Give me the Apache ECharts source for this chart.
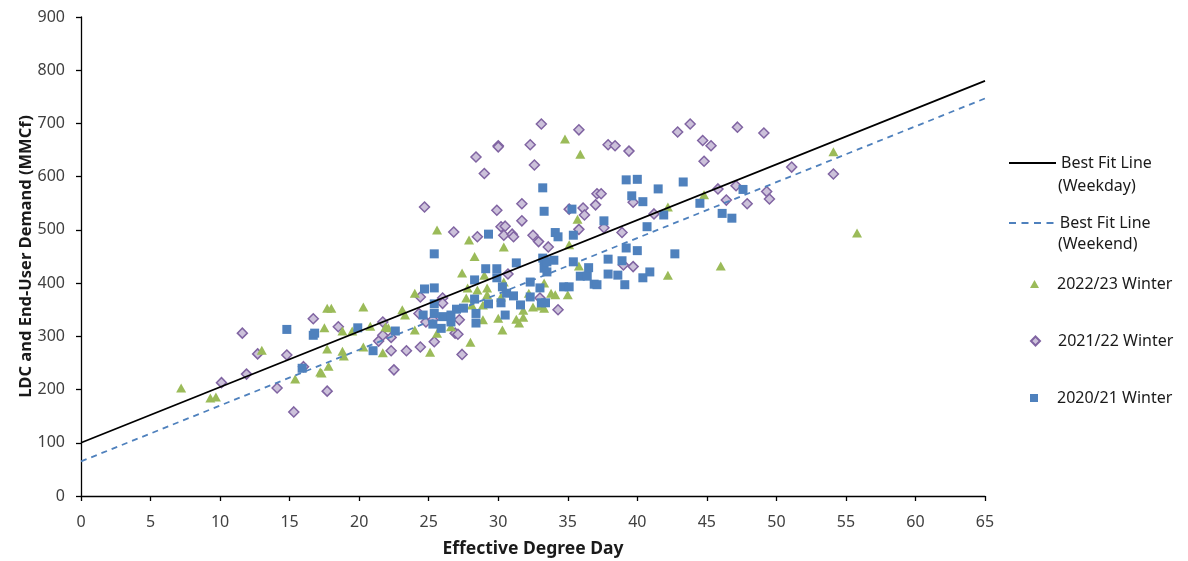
<!DOCTYPE html>
<html>
<head>
<meta charset="utf-8">
<script src="https://cdn.jsdelivr.net/npm/echarts@6/dist/echarts.min.js"></script>
<style>
html,body{margin:0;padding:0;background:#fff;}
#chart{width:1188px;height:561px;}
</style>
</head>
<body>
<div id="chart"></div>
<script>
// ---- data ----
var xTickMin = 0, xTickMax = 65, xTickStep = 5;
var yTickMin = 0, yTickMax = 900, yTickStep = 100;

var weekdayLine = [[0, 100], [65, 780]];
var weekendLine = [[0, 65], [65, 747]];

var winter2223 = [
  [7.2,203],[9.3,184],[9.7,186],[13.0,274],[15.4,220],[17.2,233],[17.3,231],[17.8,244],[17.7,276],
  [18.8,272],[18.9,263],[17.5,316],[17.7,353],[18.0,353],[18.8,310],[19.5,310],[20.3,355],[20.8,319],
  [20.3,280],[21.7,269],[22.1,316],[21.9,318],[23.1,350],[23.3,340],[24.0,381],[24.0,312],[25.1,270],
  [25.6,306],[25.6,500],[26.6,318],[27.4,419],[27.9,481],[27.8,391],[27.7,372],[28.0,289],[28.5,387],
  [28.1,359],[28.9,359],[28.9,331],[29.2,378],[29.2,391],[28.3,450],[29.0,415],[30.0,334],[30.3,312],
  [30.4,468],[30.4,402],[30.2,374],[31.5,325],[31.8,336],[31.3,332],[31.8,349],[32.2,381],[32.5,355],
  [33.0,357],[33.3,353],[33.3,400],[33.8,381],[34.1,378],[35.0,378],[35.1,472],[35.8,432],[35.7,520],
  [34.8,671],[35.9,642],[42.2,543],[42.2,415],[44.8,566],[46.0,432],[54.1,647],[55.8,494]
];

var winter2122 = [
  [10.1,213],[11.6,306],[11.9,229],[12.7,267],[14.1,203],[14.8,265],[15.3,158],[16.0,243],[16.7,333],
  [17.7,197],[18.5,318],[21.4,291],[21.7,302],[21.7,327],[22.3,298],[22.3,273],[22.5,237],[23.4,273],
  [24.3,343],[24.4,374],[24.4,280],[24.7,543],[24.8,327],[25.3,331],[25.4,290],[26.0,372],[26.0,362],
  [26.8,496],[26.9,306],[27.1,304],[27.2,331],[27.4,266],[28.4,637],[28.5,487],[29.0,606],[29.9,537],
  [30.0,658],[30.0,656],[30.2,506],[30.5,507],[30.4,490],[30.7,417],[31.0,492],[31.1,487],[31.7,549],
  [31.7,517],[32.3,660],[32.5,490],[32.6,622],[32.9,478],[33.0,372],[33.1,699],[33.6,468],[34.3,350],
  [35.1,539],[35.8,688],[35.8,501],[36.1,541],[36.2,528],[37.0,547],[37.1,568],[37.4,568],[37.6,504],
  [37.9,660],[38.4,658],[38.9,495],[39.0,434],[39.4,648],[39.7,552],[39.7,431],[41.2,530],[42.9,684],
  [43.8,699],[44.7,668],[44.8,629],[45.3,658],[45.8,577],[46.4,556],[47.1,583],[47.2,693],[47.9,549],
  [49.1,682],[49.3,572],[49.5,558],[51.1,618],[54.1,605]
];

var winter2021 = [
  [14.8,313],[15.9,240],[16.7,302],[16.8,306],[19.9,316],[21.0,273],[22.6,310],[24.6,340],[24.7,389],
  [25.4,391],[25.4,455],[25.4,361],[25.4,343],[25.3,323],[25.9,315],[26.0,337],[26.6,327],[26.6,340],
  [27.0,351],[27.5,353],[28.3,406],[28.3,370],[28.4,343],[28.4,325],[29.1,427],[29.3,492],[29.3,361],
  [29.9,427],[29.9,410],[30.2,363],[30.3,393],[30.5,340],[30.6,381],[31.1,376],[31.3,438],[31.6,359],
  [32.3,374],[32.3,402],[33.0,391],[33.1,363],[33.4,363],[33.2,579],[33.3,535],[33.2,447],[33.3,443],
  [33.3,428],[33.5,421],[33.5,440],[34.0,443],[34.1,495],[34.3,487],[34.7,393],[35.1,393],[35.3,539],
  [35.4,490],[35.4,440],[35.9,413],[36.4,413],[36.5,429],[36.9,398],[37.1,397],[37.6,517],[37.9,445],
  [37.9,417],[38.6,415],[38.9,442],[39.1,397],[39.2,594],[39.2,466],[39.6,564],[40.0,595],[40.0,461],
  [40.4,553],[40.4,410],[40.7,506],[40.9,421],[41.5,577],[41.9,528],[42.7,455],[43.3,590],[44.5,550],
  [46.1,531],[46.8,522],[47.6,576]
];

var seriesNames = ['Best Fit Line (Weekday)', 'Best Fit Line (Weekend)', '2022/23 Winter', '2021/22 Winter', '2020/21 Winter'];
var legendFirstLines = ['Best Fit Line', 'Best Fit Line', '2022/23 Winter', '2021/22 Winter', '2020/21 Winter'];
var legendSecondLines = ['(Weekday)', '(Weekend)'];
var xTitle = 'Effective Degree Day';
var yTitle = 'LDC and End-User Demand (MMCf)';

// ---- chart ----
var FONT = '"Noto Sans", "Open Sans", sans-serif';
var chart = echarts.init(document.getElementById('chart'), null, {renderer: 'canvas'});

function fmt(name) { return legendFirstLines[seriesNames.indexOf(name)]; }
var legendText = {fontFamily: FONT, fontSize: 16, color: '#1a1a1a'};
var dashIcon = 'path://M0,0h7v2h-7z M12.5,0h7v2h-7z M25,0h7v2h-7z M37.5,0h7v2h-7z';

var legends = [
  {data: [{name: seriesNames[0], icon: 'rect', itemStyle: {color: '#000'}}], left: 1004, top: 150,
   itemWidth: 47, itemHeight: 2, selectedMode: false, formatter: fmt, textStyle: legendText},
  {data: [{name: seriesNames[1], icon: dashIcon, itemStyle: {color: '#4F81BD'}}], left: 1004, top: 210,
   itemWidth: 47, itemHeight: 2, selectedMode: false, formatter: fmt, textStyle: legendText},
  {data: [{name: seriesNames[2]}], left: 1025, top: 271, itemWidth: 9, itemHeight: 8,
   selectedMode: false, formatter: fmt, textStyle: Object.assign({}, legendText, {padding: [0, 0, 0, 13]})},
  {data: [{name: seriesNames[3]}], left: 1025, top: 328, itemWidth: 9, itemHeight: 9,
   selectedMode: false, formatter: fmt, textStyle: Object.assign({}, legendText, {padding: [0, 0, 0, 13]})},
  {data: [{name: seriesNames[4]}], left: 1025, top: 385, itemWidth: 8, itemHeight: 8,
   selectedMode: false, formatter: fmt, textStyle: Object.assign({}, legendText, {padding: [0, 0, 0, 14]})}
];

var option = {
  backgroundColor: '#ffffff',
  animation: false,
  legend: legends,
  graphic: [
    {type: 'text', left: 1058, top: 178, silent: true,
     style: {text: legendSecondLines[0], font: '16px "Noto Sans", sans-serif', fill: '#1a1a1a'}},
    {type: 'text', left: 1058, top: 236, silent: true,
     style: {text: legendSecondLines[1], font: '16px "Noto Sans", sans-serif', fill: '#1a1a1a'}}
  ],
  grid: {left: 81, right: 203, top: 17, bottom: 65, containLabel: false, outerBoundsMode: 'none'},
  xAxis: {
    type: 'value', min: xTickMin, max: xTickMax, interval: xTickStep,
    name: xTitle, nameLocation: 'middle', nameGap: 44,
    nameTextStyle: {fontFamily: FONT, fontSize: 17.5, fontWeight: 'bold', color: '#1a1a1a'},
    axisLine: {show: true, onZero: false, lineStyle: {color: '#000', width: 1.3}},
    axisTick: {show: true, length: 5, inside: false, lineStyle: {color: '#000', width: 1.3}},
    axisLabel: {fontFamily: FONT, fontSize: 16, color: '#404040', margin: 18},
    splitLine: {show: false}
  },
  yAxis: {
    type: 'value', min: yTickMin, max: yTickMax, interval: yTickStep,
    name: yTitle, nameLocation: 'middle', nameGap: 46, nameRotate: 90, nameMoveOverlap: false,
    nameTextStyle: {fontFamily: FONT, fontSize: 16.5, fontWeight: 'bold', color: '#1a1a1a'},
    axisLine: {show: true, onZero: false, lineStyle: {color: '#000', width: 1.3}},
    axisTick: {show: true, length: 5, inside: false, lineStyle: {color: '#000', width: 1.3}},
    axisLabel: {fontFamily: FONT, fontSize: 16, color: '#404040', margin: 16},
    splitLine: {show: false}
  },
  series: [
    {
      name: seriesNames[2], type: 'scatter', data: winter2223,
      symbol: 'triangle', symbolSize: [10, 9],
      itemStyle: {color: '#9BBB59', opacity: 1}, z: 3
    },
    {
      name: seriesNames[3], type: 'scatter', data: winter2122,
      symbol: 'diamond', symbolSize: 10,
      itemStyle: {color: '#CCC1DA', borderColor: '#8064A2', borderWidth: 1.5, opacity: 1}, z: 2
    },
    {
      name: seriesNames[4], type: 'scatter', data: winter2021,
      symbol: 'rect', symbolSize: 9,
      itemStyle: {color: '#4F81BD', opacity: 1}, z: 4
    },
    {
      name: seriesNames[0], type: 'line', data: weekdayLine,
      symbol: 'none', showSymbol: false,
      lineStyle: {color: '#000000', width: 1.8, type: 'solid'},
      itemStyle: {color: '#000000'}, z: 5
    },
    {
      name: seriesNames[1], type: 'line', data: weekendLine,
      symbol: 'none', showSymbol: false,
      lineStyle: {color: '#4F81BD', width: 1.8, type: [6, 5]},
      itemStyle: {color: '#4F81BD'}, z: 5
    }
  ]
};
chart.setOption(option);
</script>
</body>
</html>
